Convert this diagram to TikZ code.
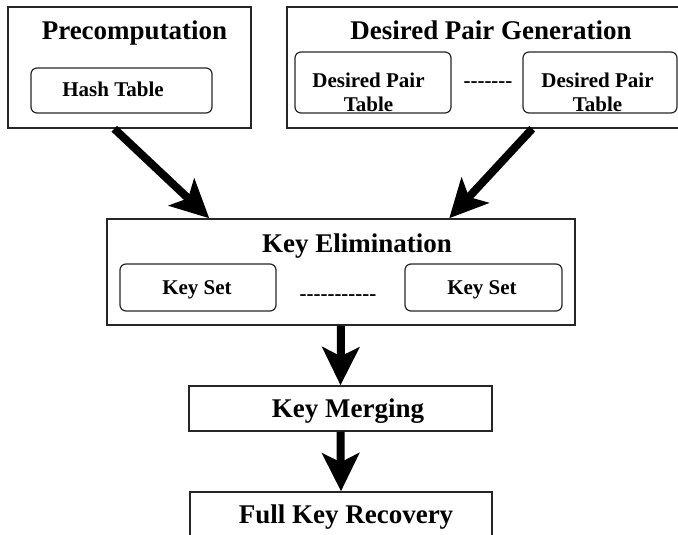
\documentclass[tikz,border=0pt]{standalone}
\usepackage{fontspec}
\setmainfont{Liberation Serif}[Ligatures=TeXOff]
\usetikzlibrary{arrows.meta}
\begin{document}
\begin{tikzpicture}[x=1pt,y=-1pt,
  outerbox/.style={draw=black!85, line width=1.5pt, rectangle, inner sep=0pt},
  innerbox/.style={draw=black!85, line width=1.2pt, rectangle, rounded corners=6pt, inner sep=0pt},
  titletext/.style={inner sep=0pt, anchor=base, font=\fontsize{27}{30}\selectfont\bfseries},
  itemtext/.style={inner sep=0pt, font=\fontsize{21}{24}\selectfont\bfseries},
  flow/.style={line width=8pt, -{Stealth[length=38pt,width=37pt,inset=9pt]}}
]
\useasboundingbox (0,0) rectangle (678,535);
\clip (0,0) rectangle (678,535);

% Precomputation stage
\node[outerbox, minimum width=243pt, minimum height=121pt] (pre) at (129.5,67.5) {};
\node[titletext] (pret) at (134.5,40) {Precomputation};
\node[innerbox, minimum width=181pt, minimum height=45pt] (ht) at (121.5,90.5) {};
\node[itemtext, anchor=base] (htt) at (113,97) {Hash Table};

% Desired pair generation stage
\node[outerbox, minimum width=413pt, minimum height=121pt] (dpg) at (493.5,67.5) {};
\node[titletext] (dpgt) at (491,40) {Desired Pair Generation};
\node[innerbox, minimum width=156pt, minimum height=61pt] (dpt1) at (373,82.5) {};
\node[itemtext, align=center, anchor=north] (dpt1t) at (368.5,72.5) {Desired Pair\\Table};
\node[itemtext, anchor=base] (dpdots) at (488,88) {-------};
\node[innerbox, minimum width=154pt, minimum height=61pt] (dpt2) at (600,82.5) {};
\node[itemtext, align=center, anchor=north] (dpt2t) at (597.5,72.5) {Desired Pair\\Table};

% Key elimination stage
\node[outerbox, minimum width=468pt, minimum height=106pt] (ke) at (341,272) {};
\node[titletext] (ket) at (357,252) {Key Elimination};
\node[innerbox, minimum width=156pt, minimum height=47pt] (ks1) at (198,287.5) {};
\node[itemtext, anchor=base] (ks1t) at (197,294) {Key Set};
\node[itemtext, anchor=base] (kedots) at (338,300) {-----------};
\node[innerbox, minimum width=157pt, minimum height=47pt] (ks2) at (483.5,287.5) {};
\node[itemtext, anchor=base] (ks2t) at (482,294) {Key Set};

% Merging and recovery
\node[outerbox, minimum width=303pt, minimum height=45pt] (km) at (340.5,408.5) {};
\node[titletext] (kmt) at (348,417) {Key Merging};
\node[outerbox, minimum width=302pt, minimum height=78pt] (fkr) at (341,531) {};
\node[titletext] (fkrt) at (346,523) {Full Key Recovery};

% Flow arrows
\draw[flow] ([xshift=107pt]pre.south west) -- ([xshift=103pt]ke.north west);
\draw[flow] ([xshift=246pt]dpg.south west) -- ([xshift=343pt]ke.north west);
\draw[flow] (ke.south) -- (km.north);
\draw[flow] (km.south) -- (fkr.north);
\end{tikzpicture}
\end{document}
